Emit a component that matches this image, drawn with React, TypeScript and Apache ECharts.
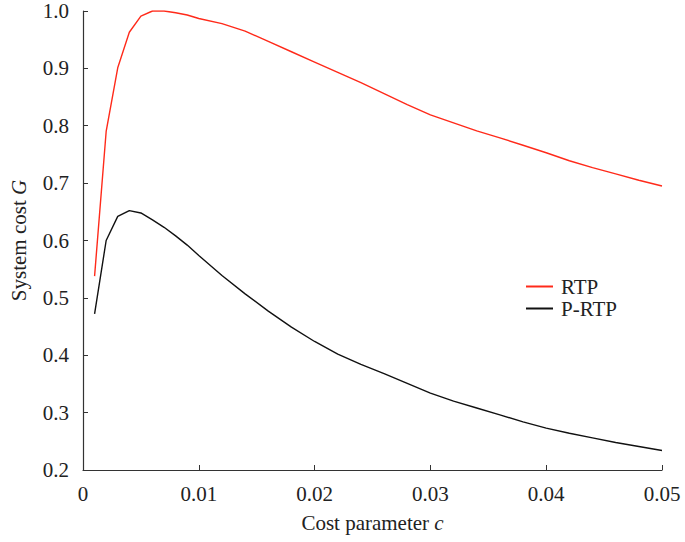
import React, { useEffect, useRef } from "react";
import * as echarts from "echarts";

const cValues = [
  0.001, 0.002, 0.003, 0.004, 0.005, 0.006, 0.007, 0.008, 0.009, 0.01,
  0.012, 0.014, 0.016, 0.018, 0.02, 0.022, 0.024, 0.026, 0.028, 0.03,
  0.032, 0.034, 0.036, 0.038, 0.04, 0.042, 0.044, 0.046, 0.048, 0.05,
];
const rtp = [
  0.538, 0.79, 0.901, 0.963, 0.991, 1.0, 1.0, 0.997, 0.993, 0.987,
  0.978, 0.965, 0.947, 0.929, 0.911, 0.893, 0.875, 0.856, 0.837, 0.819,
  0.805, 0.791, 0.779, 0.766, 0.753, 0.739, 0.727, 0.716, 0.705, 0.695,
];
const prtp = [
  0.472, 0.6, 0.642, 0.652, 0.648, 0.636, 0.623, 0.608, 0.592, 0.574,
  0.539, 0.507, 0.477, 0.449, 0.424, 0.402, 0.384, 0.368, 0.351, 0.334,
  0.32, 0.308, 0.296, 0.284, 0.273, 0.264, 0.256, 0.248, 0.241, 0.234,
];
const xTicks = [0, 0.01, 0.02, 0.03, 0.04, 0.05];
const seriesNames = ["RTP", "P-RTP"];

const FONT = "'Liberation Serif', 'Times New Roman', serif";
const FS = 21;

export default function App() {
  const ref = useRef<HTMLDivElement>(null);
  useEffect(() => {
    if (!ref.current) return;
    const chart = echarts.init(ref.current, null, { renderer: "svg" });
    const axisLine = { show: true, lineStyle: { color: "#333", width: 1.2 } };
    const nameStyle = {
      fontFamily: FONT,
      fontSize: FS,
      color: "#222",
      rich: { i: { fontFamily: FONT, fontSize: FS, fontStyle: "italic", color: "#222" } },
    };
    chart.setOption({
      animation: false,
      backgroundColor: "#fff",
      grid: { left: 77, right: 23, top: 11, bottom: 72 },
      legend: {
        orient: "vertical",
        left: 521,
        top: 271,
        itemWidth: 27,
        itemHeight: 2,
        itemGap: 1,
        icon: "rect",
        textStyle: { fontFamily: FONT, fontSize: FS, color: "#222", padding: [0, 0, 0, 3] },
        data: seriesNames,
      },
      xAxis: {
        type: "value",
        min: 0,
        max: 0.05,
        interval: 0.01,
        name: "Cost parameter {i|c}",
        nameLocation: "middle",
        nameGap: 42,
        nameTextStyle: nameStyle,
        axisLine,
        axisTick: { show: true, inside: true, length: 5, lineStyle: { color: "#333" } },
        axisLabel: {
          fontFamily: FONT,
          fontSize: FS,
          color: "#222",
          margin: 13,
          formatter: (v: number) => {
            const t = xTicks.find((x) => Math.abs(x - v) < 1e-9);
            return t === undefined ? "" : t === 0 ? "0" : String(t);
          },
        },
        splitLine: { show: false },
      },
      yAxis: {
        type: "value",
        min: 0.2,
        max: 1.0,
        interval: 0.1,
        name: "System cost {i|G}",
        nameLocation: "middle",
        nameGap: 54,
        nameTextStyle: nameStyle,
        axisLine,
        axisTick: { show: true, inside: true, length: 5, lineStyle: { color: "#333" } },
        axisLabel: {
          fontFamily: FONT,
          fontSize: FS,
          color: "#222",
          margin: 14,
          formatter: (v: number) => v.toFixed(1),
        },
        splitLine: { show: false },
      },
      series: [
        {
          name: seriesNames[0],
          type: "line",
          data: cValues.map((c, i) => [c, rtp[i]]),
          showSymbol: false,
          symbol: "none",
          lineStyle: { color: "#ff2a1a", width: 1.4 },
          itemStyle: { color: "#ff2a1a" },
        },
        {
          name: seriesNames[1],
          type: "line",
          data: cValues.map((c, i) => [c, prtp[i]]),
          showSymbol: false,
          symbol: "none",
          lineStyle: { color: "#111", width: 1.4 },
          itemStyle: { color: "#111" },
        },
      ],
    });
    return () => chart.dispose();
  }, []);
  return (
    <div
      ref={ref}
      style={{ position: "fixed", left: 0, top: 0, width: 685, height: 542 }}
    />
  );
}
